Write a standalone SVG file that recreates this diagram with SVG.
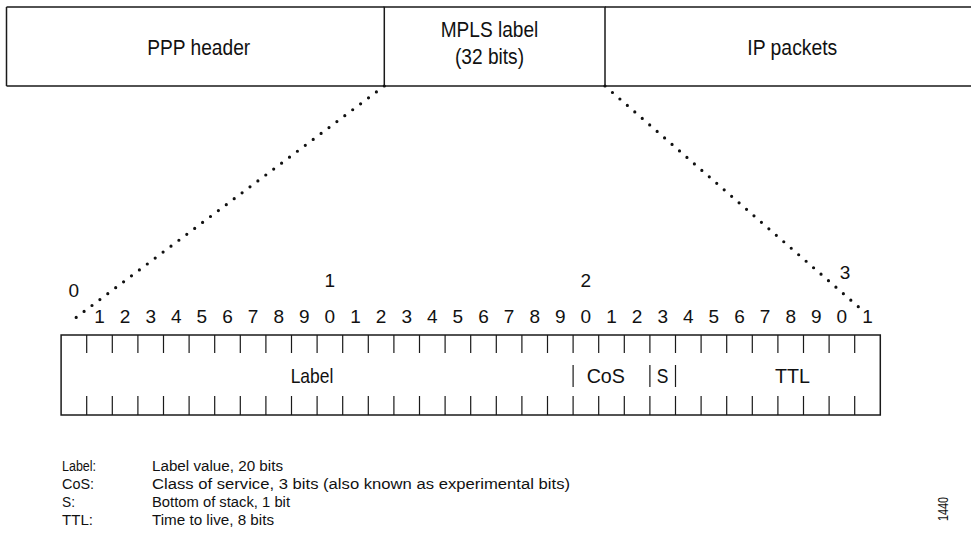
<svg xmlns="http://www.w3.org/2000/svg" width="971" height="540" viewBox="0 0 971 540">
  <style>
    .ln { fill: none; stroke: #1a1a1a; stroke-width: 1.5; }
    .tk { fill: none; stroke: #1a1a1a; stroke-width: 1.2; }
    .dot { fill: none; stroke: #111; stroke-width: 3.2; stroke-linecap: round; }
    text { font-family: "Liberation Sans", Arial, Helvetica, sans-serif; fill: #111; }
    .hdr { font-size: 22px; text-anchor: middle; }
    .num { font-size: 19px; text-anchor: middle; }
    .fld { font-size: 21px; text-anchor: middle; }
    .leg { font-size: 15.5px; }
  </style>

  <!-- frame layout: PPP header | MPLS label | IP packets -->
  <g id="frame-ppp">
    <path class="ln" d="M6.5 7H384.3M6.5 86H384.3M6.5 7V86"/>
    <text class="hdr" x="198.7" y="54.5" textLength="103" lengthAdjust="spacingAndGlyphs">PPP header</text>
  </g>
  <g id="frame-mpls">
    <rect class="ln" x="384.3" y="7" width="220.7" height="79"/>
    <text class="hdr" x="489.5" y="37" textLength="97.6" lengthAdjust="spacingAndGlyphs">MPLS label</text>
    <text class="hdr" x="489.5" y="64" textLength="69" lengthAdjust="spacingAndGlyphs">(32 bits)</text>
  </g>
  <g id="frame-ip">
    <path class="ln" d="M605 7H975M605 86H975"/>
    <text class="hdr" x="792.3" y="54.5" textLength="90" lengthAdjust="spacingAndGlyphs">IP packets</text>
  </g>

  <!-- dotted expansion lines from the label cell down to the bit ruler -->
  <g id="connectors">
    <path class="dot" d="M384.3 86L68.3 323.3" stroke-dasharray="0 9.88"/>
    <path class="dot" d="M605 86L858.3 306.7" stroke-dasharray="0 9.88"/>
  </g>

  <!-- bit ruler: 32 cells, 25.6 px each -->
  <g id="bit-ruler">
    <rect class="ln" x="61.1" y="335" width="819.2" height="80"/>
    <path class="tk" d="M86.7 335V353M112.3 335V353M137.9 335V353M163.5 335V353M189.1 335V353M214.7 335V353M240.3 335V353M265.9 335V353M291.5 335V353M317.1 335V353M342.7 335V353M368.3 335V353M393.9 335V353M419.5 335V353M445.1 335V353M470.7 335V353M496.3 335V353M521.9 335V353M547.5 335V353M573.1 335V353M598.7 335V353M624.3 335V353M649.9 335V353M675.5 335V353M701.1 335V353M726.7 335V353M752.3 335V353M777.9 335V353M803.5 335V353M829.1 335V353M854.7 335V353"/>
    <path class="tk" d="M86.7 396V415M112.3 396V415M137.9 396V415M163.5 396V415M189.1 396V415M214.7 396V415M240.3 396V415M265.9 396V415M291.5 396V415M317.1 396V415M342.7 396V415M368.3 396V415M393.9 396V415M419.5 396V415M445.1 396V415M470.7 396V415M496.3 396V415M521.9 396V415M547.5 396V415M573.1 396V415M598.7 396V415M624.3 396V415M649.9 396V415M675.5 396V415M701.1 396V415M726.7 396V415M752.3 396V415M777.9 396V415M803.5 396V415M829.1 396V415M854.7 396V415"/>
    <!-- field separators -->
    <path class="tk" d="M573.1 365V387M649.9 365V387M675.5 365V387"/>
    <text class="fld" x="312" y="383.3" textLength="42.7" lengthAdjust="spacingAndGlyphs">Label</text>
    <text class="fld" x="605.8" y="383.3" textLength="38.3" lengthAdjust="spacingAndGlyphs">CoS</text>
    <text class="fld" x="662.5" y="383.3" textLength="11.6" lengthAdjust="spacingAndGlyphs">S</text>
    <text class="fld" x="792.5" y="383.3" textLength="35" lengthAdjust="spacingAndGlyphs">TTL</text>
  </g>

  <!-- bit numbering -->
  <g id="bit-numbers">
    <text class="num" x="73.9" y="296.7">0</text>
    <text class="num" x="329.9" y="286.7">1</text>
    <text class="num" x="585.9" y="286.7">2</text>
    <text class="num" x="845" y="279">3</text>
    <text class="num" x="99.5" y="323.3">1</text>
    <text class="num" x="125.1" y="323.3">2</text>
    <text class="num" x="150.7" y="323.3">3</text>
    <text class="num" x="176.3" y="323.3">4</text>
    <text class="num" x="201.9" y="323.3">5</text>
    <text class="num" x="227.5" y="323.3">6</text>
    <text class="num" x="253.1" y="323.3">7</text>
    <text class="num" x="278.7" y="323.3">8</text>
    <text class="num" x="304.3" y="323.3">9</text>
    <text class="num" x="329.9" y="323.3">0</text>
    <text class="num" x="355.5" y="323.3">1</text>
    <text class="num" x="381.1" y="323.3">2</text>
    <text class="num" x="406.7" y="323.3">3</text>
    <text class="num" x="432.3" y="323.3">4</text>
    <text class="num" x="457.9" y="323.3">5</text>
    <text class="num" x="483.5" y="323.3">6</text>
    <text class="num" x="509.1" y="323.3">7</text>
    <text class="num" x="534.7" y="323.3">8</text>
    <text class="num" x="560.3" y="323.3">9</text>
    <text class="num" x="585.9" y="323.3">0</text>
    <text class="num" x="611.5" y="323.3">1</text>
    <text class="num" x="637.1" y="323.3">2</text>
    <text class="num" x="662.7" y="323.3">3</text>
    <text class="num" x="688.3" y="323.3">4</text>
    <text class="num" x="713.9" y="323.3">5</text>
    <text class="num" x="739.5" y="323.3">6</text>
    <text class="num" x="765.1" y="323.3">7</text>
    <text class="num" x="790.7" y="323.3">8</text>
    <text class="num" x="816.3" y="323.3">9</text>
    <text class="num" x="841.9" y="323.3">0</text>
    <text class="num" x="867.5" y="323.3">1</text>
  </g>

  <!-- field legend -->
  <g id="legend">
    <text class="leg" x="62" y="471" textLength="34" lengthAdjust="spacingAndGlyphs">Label:</text>
    <text class="leg" x="152" y="471" textLength="131" lengthAdjust="spacingAndGlyphs">Label value, 20 bits</text>
    <text class="leg" x="62" y="489" textLength="32" lengthAdjust="spacingAndGlyphs">CoS:</text>
    <text class="leg" x="152" y="489" textLength="418" lengthAdjust="spacingAndGlyphs">Class of service, 3 bits (also known as experimental bits)</text>
    <text class="leg" x="62" y="507" textLength="13" lengthAdjust="spacingAndGlyphs">S:</text>
    <text class="leg" x="152" y="507" textLength="138" lengthAdjust="spacingAndGlyphs">Bottom of stack, 1 bit</text>
    <text class="leg" x="62" y="525" textLength="31" lengthAdjust="spacingAndGlyphs">TTL:</text>
    <text class="leg" x="152" y="525" textLength="122" lengthAdjust="spacingAndGlyphs">Time to live, 8 bits</text>
  </g>

  <text x="0" y="0" transform="translate(948 509) rotate(-90)" font-size="15" text-anchor="middle" textLength="24" lengthAdjust="spacingAndGlyphs">1440</text>
</svg>
